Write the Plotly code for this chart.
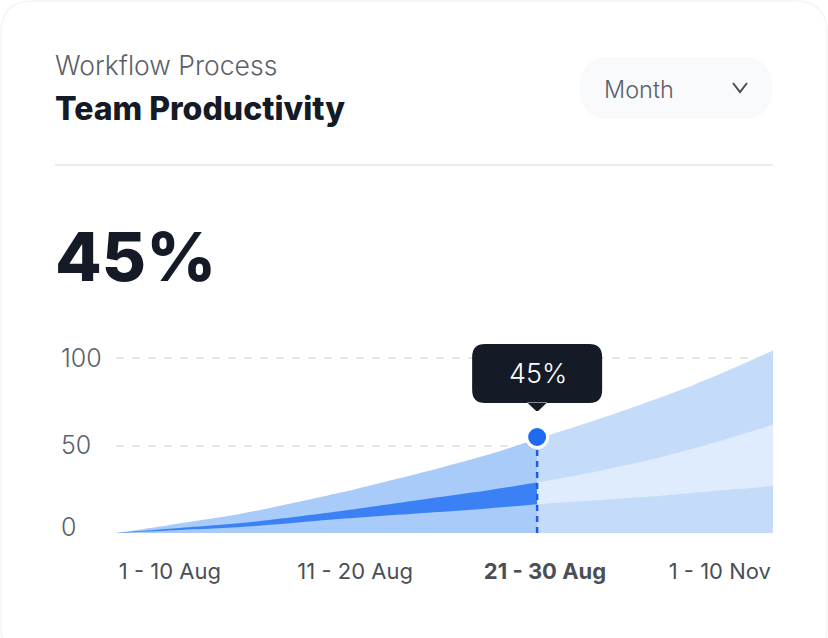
import plotly.graph_objects as go

W, H = 828, 638
# Data
x_left = [0, 8, 19, 34, 49, 57, 64.1]
top_left = [0, 4.5, 11, 23, 37, 45.2, 54]
mid_left = [0, 2.4, 5.7, 12.5, 20.5, 24.7, 29]
low_left = [0, 1.4, 3.4, 8, 12, 14.2, 16.5]
x_right = [64.1, 70, 76, 82, 88, 94, 100]
top_right = [54, 61, 68.5, 76.5, 85, 94.5, 104.6]
mid_right = [29, 33, 37.5, 42.5, 48.5, 55, 62]
low_right = [16.5, 18, 19.5, 21, 23, 25, 27]
x_ticks = [8.2, 36.4, 65.3, 91.9]
x_labels = ["1 - 10 Aug", "11 - 20 Aug", "<b>21 - 30 Aug</b>", "1 - 10 Nov"]
y_ticks = [50, 100]
current_x = 64.1
current_y = 55
current_label = "45%"

FONT = "Inter"
DARK = "#141A26"
GREY = "#5C6169"
L_BLUE, D_BLUE = "#A9CBF9", "#3B80F5"
R_BLUE, R_PALE = "#C4DCF9", "#DFECFD"

def px(x, y):
    return x / W, 1 - y / H

def rounded_px(x0, y0, x1, y1, r):
    a, b = px(x0, y0); c, d = px(x1, y1)
    rx, ry = r / W, r / H
    return (f"M {a+rx} {b} L {c-rx} {b} Q {c} {b} {c} {b-ry} L {c} {d+ry} Q {c} {d} {c-rx} {d} "
            f"L {a+rx} {d} Q {a} {d} {a} {d+ry} L {a} {b-ry} Q {a} {b} {a+rx} {b} Z")

fig = go.Figure()
for xs, ys, col in [(x_left, top_left, L_BLUE), (x_left, mid_left, D_BLUE), (x_left, low_left, L_BLUE),
                    (x_right, top_right, R_BLUE), (x_right, mid_right, R_PALE), (x_right, low_right, R_BLUE)]:
    fig.add_trace(go.Scatter(x=xs, y=ys, mode="lines", line=dict(width=0, color=col, shape="spline", smoothing=0.8),
                             fill="tozeroy", fillcolor=col, showlegend=False, hoverinfo="skip"))
fig.add_trace(go.Scatter(x=[current_x, current_x], y=[0, current_y], mode="lines",
                         line=dict(color="#1D5FDB", width=2.5, dash="6px,5px"), showlegend=False, hoverinfo="skip"))
fig.add_trace(go.Scatter(x=[current_x], y=[current_y], mode="markers",
                         marker=dict(size=21, color="#1F6BF0", line=dict(color="white", width=3)),
                         showlegend=False, hoverinfo="skip"))

shapes = [
    dict(type="path", xref="paper", yref="paper", path=rounded_px(1, 1, 827, 660, 32),
         line=dict(color="#F4F5F7", width=1.5), fillcolor="white", layer="below"),
    dict(type="line", xref="paper", yref="paper", x0=55/W, x1=773/W, y0=1-165/H, y1=1-165/H,
         line=dict(color="#E4E6E9", width=1.5)),
    dict(type="path", xref="paper", yref="paper", path=rounded_px(580, 57, 772, 119, 30),
         line=dict(width=0), fillcolor="#F8FAFC", layer="below"),
    dict(type="path", xref="paper", yref="paper",
         path=f"M {733/W} {1-83/H} L {740/W} {1-92/H} L {747/W} {1-83/H}",
         line=dict(color="#4A4F57", width=2), fillcolor="rgba(0,0,0,0)"),
    # tooltip box anchored on the current point
    dict(type="path", xref="x", yref="y", xsizemode="pixel", ysizemode="pixel",
         xanchor=current_x, yanchor=current_y,
         path=("M -52 34 L 52 34 Q 65 34 65 47 L 65 80 Q 65 93 52 93 L -52 93 Q -65 93 -65 80 L -65 47 "
               "Q -65 34 -52 34 Z M -10 34.5 L -1 26 L 1 26 L 10 34.5 Z"),
         fillcolor=DARK, line=dict(width=0)),
]

annotations = []
def text(x, y, s, size, color, weight=400, anchor="left"):
    annotations.append(dict(xref="paper", yref="paper", x=x/W, y=1-y/H, text=s, showarrow=False, xanchor=anchor,
                            yanchor="middle", font=dict(family=FONT, size=size, color=color, weight=weight),
                            xshift=0, yshift=0, borderpad=0, borderwidth=0))

text(55, 65, "Workflow Process", 26.5, GREY, 300)
text(55, 109, "Team Productivity", 32, DARK, 800)
text(604, 89, "Month", 23.5, GREY, 300)
text(55, 256, "45%", 68, DARK, 800)
text(538, 373, current_label, 27, "white", 300, "center")
annotations.append(dict(xref="paper", yref="y", x=60/W, y=0, yshift=6, text="0", showarrow=False, xanchor="left",
                        borderpad=0, font=dict(family=FONT, size=25, color=GREY, weight=300)))

fig.update_layout(
    width=W, height=H, margin=dict(l=0, r=0, t=0, b=0), autosize=False,
    paper_bgcolor="white", plot_bgcolor="rgba(0,0,0,0)", shapes=shapes, annotations=annotations,
    xaxis=dict(domain=[116/W, 773/W], range=[0, 100], tickmode="array", tickvals=x_ticks, ticktext=x_labels,
               showgrid=False, zeroline=False, showline=False, ticks="outside", ticklen=19, tickcolor="rgba(0,0,0,0)",
               tickfont=dict(family=FONT, size=22, color="#4A4F57"), automargin=False),
    yaxis=dict(domain=[1-533/H, 1-341/H], range=[0, 110], tickmode="array", tickvals=y_ticks,
               ticktext=[str(v) for v in y_ticks], showgrid=True, griddash="8px,8px", gridcolor="#E4E6E9",
               gridwidth=1.5, zeroline=False, showline=False, ticks="", anchor="free", position=57/W,
               ticklabelposition="inside",
               tickfont=dict(family=FONT, size=25, color=GREY, weight=300), automargin=False),
)
fig.write_html("out.html", config=dict(displayModeBar=False),
               post_script="document.body.style.margin='0';document.body.style.overflow='hidden';")
